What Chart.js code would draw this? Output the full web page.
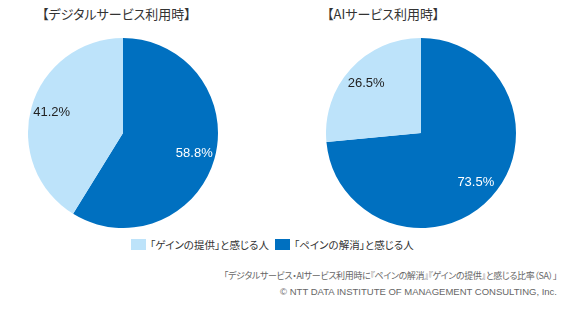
<!doctype html>
<html lang="ja">
<head>
  <meta charset="utf-8">
  <title>ペインの解消・ゲインの提供</title>
  <script src="https://cdn.jsdelivr.net/npm/chart.js@4"></script>
  <style>
    body { margin: 0; background: #fff; font-family: "Noto Sans CJK JP", "Liberation Sans", sans-serif; }
    #wrap { position: relative; width: 567px; height: 313px; overflow: hidden; font-feature-settings: "palt"; }
    .title { position: absolute; top: 4px; font-size: 13px; color: #333; white-space: nowrap; }
    canvas { position: absolute; }
    #legend { position: absolute; top: 237px; left: 131px; font-size: 10.5px; color: #333; white-space: nowrap; display: flex; align-items: center; }
    #legend .box { display: inline-block; width: 15px; height: 11px; margin-right: 4px; }
    #legend .item { display: flex; align-items: center; margin-right: 6px; }
    #note { position: absolute; right: 10px; top: 268px; color: #666; text-align: right; line-height: 16px; white-space: nowrap; }
    #note1 { font-size: 9px; letter-spacing: -0.35px; }
    #note2 { font-size: 9.5px; font-family: "Liberation Sans", Arial, sans-serif; }
  </style>
</head>
<body>
  <div id="wrap">
    <div class="title" id="title1" style="left:42px;"></div>
    <div class="title" id="title2" style="left:327px;"></div>
    <canvas id="pie1" width="190" height="190" style="left:28px; top:38px;"></canvas>
    <canvas id="pie2" width="190" height="190" style="left:326px; top:38px;"></canvas>
    <div id="legend"></div>
    <div id="note"><div id="note1">「デジタルサービス・AIサービス利用時に『ペインの解消』『ゲインの提供』と感じる比率（SA）」</div><div id="note2">© NTT DATA INSTITUTE OF MANAGEMENT CONSULTING, Inc.</div></div>
  </div>

  <script>
    // Data
    var categories = ['「ペインの解消」と感じる人', '「ゲインの提供」と感じる人'];
    var colors = ['#0070C0', '#BDE3FA'];
    var labelColors = ['#ffffff', '#222222'];
    var titles = ['【デジタルサービス利用時】', '【AIサービス利用時】'];
    var digitalValues = [58.8, 41.2];
    var aiValues = [73.5, 26.5];

    document.getElementById('title1').textContent = titles[0];
    document.getElementById('title2').textContent = titles[1];

    // Legend: light one first, as in the original
    var legend = document.getElementById('legend');
    [1, 0].forEach(function(i) {
      var item = document.createElement('span');
      item.className = 'item';
      var box = document.createElement('span');
      box.className = 'box';
      box.style.background = colors[i];
      item.appendChild(box);
      item.appendChild(document.createTextNode(categories[i]));
      legend.appendChild(item);
    });

    // Percent labels inside the slices
    const sliceLabels = {
      id: 'sliceLabels',
      afterDatasetsDraw(chart) {
        const ctx = chart.ctx;
        const meta = chart.getDatasetMeta(0);
        const data = chart.data.datasets[0].data;
        ctx.save();
        ctx.font = '13px "Liberation Sans", Arial, sans-serif';
        ctx.textAlign = 'center';
        ctx.textBaseline = 'middle';
        meta.data.forEach(function(arc, i) {
          const p = arc.getProps(['x', 'y', 'startAngle', 'endAngle', 'outerRadius']);
          const mid = (p.startAngle + p.endAngle) / 2;
          const r = p.outerRadius * 0.78;
          ctx.fillStyle = labelColors[i];
          ctx.fillText(data[i].toFixed(1) + '%', p.x + Math.cos(mid) * r, p.y + Math.sin(mid) * r);
        });
        ctx.restore();
      }
    };

    function makePie(id, values) {
      return new Chart(document.getElementById(id), {
        type: 'pie',
        data: {
          labels: categories,
          datasets: [{
            data: values,
            backgroundColor: colors,
            borderWidth: 0
          }]
        },
        options: {
          responsive: false,
          animation: false,
          devicePixelRatio: 1,
          layout: { padding: 0 },
          plugins: {
            legend: { display: false },
            tooltip: { enabled: false }
          }
        },
        plugins: [sliceLabels]
      });
    }

    makePie('pie1', digitalValues);
    makePie('pie2', aiValues);
  </script>
</body>
</html>
